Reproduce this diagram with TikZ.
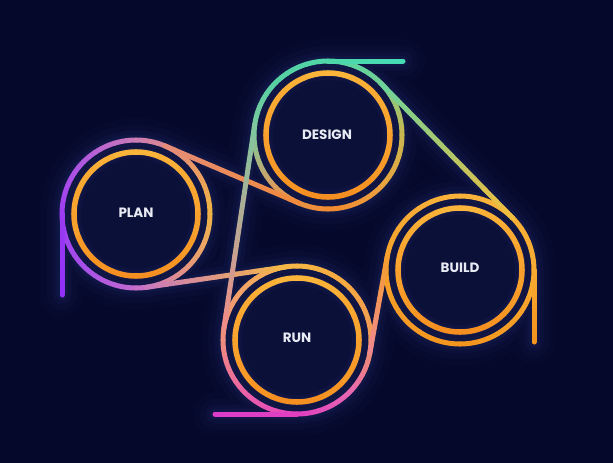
\documentclass[tikz,border=0pt]{standalone}
\usepackage{fontspec}
\newfontfamily\labfont{Poppins}
\usetikzlibrary{calc}
\definecolor{bg}{HTML}{05082A}
\definecolor{disc}{HTML}{0B1039}
\definecolor{glowc}{HTML}{4A5AB8}
\definecolor{txt}{HTML}{E8EAF4}
\definecolor{ringtop}{HTML}{FBB83C}
\definecolor{ringbot}{HTML}{F68C1F}
% PLAN
\definecolor{p90}{HTML}{C46CCC}
\definecolor{p135}{HTML}{A850E8}
\definecolor{p180}{HTML}{9B3CF2}
\definecolor{p225}{HTML}{B058E0}
\definecolor{p270}{HTML}{C97AB8}
\definecolor{p315}{HTML}{E8946C}
\definecolor{p0}{HTML}{F0B445}
\definecolor{p45}{HTML}{E89A78}
\definecolor{ptail}{HTML}{9030F8}
% DESIGN
\definecolor{d90}{HTML}{F08A30}
\definecolor{d135}{HTML}{E09A58}
\definecolor{d180}{HTML}{80C89C}
\definecolor{d225}{HTML}{58D0A2}
\definecolor{d270}{HTML}{4FD6A8}
\definecolor{d315}{HTML}{70D094}
\definecolor{d0}{HTML}{C8B850}
\definecolor{d45}{HTML}{EBA23E}
\definecolor{dtail}{HTML}{46DCB6}
% BUILD
\definecolor{b90}{HTML}{F3941E}
\definecolor{b180}{HTML}{F5A02A}
\definecolor{b270}{HTML}{F9B43C}
\definecolor{b0}{HTML}{F7AC32}
% RUN
\definecolor{u270}{HTML}{F5B645}
\definecolor{u315}{HTML}{F5A840}
\definecolor{u0}{HTML}{F09A5A}
\definecolor{u45}{HTML}{E868B0}
\definecolor{u90}{HTML}{E040C0}
\definecolor{u135}{HTML}{EA60A8}
\definecolor{u180}{HTML}{F08C80}
\definecolor{u225}{HTML}{F2A468}
\definecolor{utail}{HTML}{DC3CCA}
% lines
\definecolor{pdA}{HTML}{E58C7A}
\definecolor{pdB}{HTML}{F08A3A}
\definecolor{puA}{HTML}{C878C0}
\definecolor{puB}{HTML}{F5B845}
\definecolor{duA}{HTML}{7CC8A0}
\definecolor{duB}{HTML}{F28C88}
\definecolor{dbA}{HTML}{68D49C}
\definecolor{dbB}{HTML}{F4BC3C}
\definecolor{buA}{HTML}{F5A02A}
\definecolor{buB}{HTML}{F08890}

\tikzset{
  beltline/.style={line width=5pt, line cap=round},
  ringline/.style={line width=5.5pt, line cap=round},
  label/.style={text=txt, font=\labfont\bfseries\fontsize{13.5}{13.5}\selectfont, inner sep=0pt}
}

% gradient arc: [style] center, radius, start, end, color start, color end
\newcommand\garc[7][beltline]{%
  \foreach \k in {1,...,8}{%
    \pgfmathsetmacro\aa{#4+(#5-#4)*(\k-1)/8}%
    \pgfmathsetmacro\bb{#4+(#5-#4)*\k/8}%
    \pgfmathsetmacro\pp{100-100*(\k-0.5)/8}%
    \draw[#1,draw={#6!\pp!#7}] (#2) ++(\aa:#3) arc[start angle=\aa,end angle=\bb,radius=#3];
  }}
% gradient line: from, to, color start, color end
\newcommand\gline[4]{%
  \foreach \k in {1,...,14}{%
    \pgfmathsetmacro\ta{(\k-1)/14}%
    \pgfmathsetmacro\tb{\k/14}%
    \pgfmathsetmacro\pp{100-100*(\k-0.5)/14}%
    \draw[beltline,draw={#3!\pp!#4}] ($(#1)!\ta!(#2)$) -- ($(#1)!\tb!(#2)$);
  }}

\begin{document}
\begin{tikzpicture}[x=1pt,y=-1pt]
\fill[bg] (0,0) rectangle (613,463);
\useasboundingbox (0,0) rectangle (613,463);

% centres
\coordinate (P) at (136,214);
\coordinate (D) at (328,135);
\coordinate (B) at (460,270);
\coordinate (U) at (297,340);
% tangent points
\coordinate (pd1) at (165.0,145.9);
\coordinate (pd2) at (299.0,203.1);
\coordinate (pu1) at (146.8,287.2);
\coordinate (pu2) at (286.2,266.8);
\coordinate (du1) at (254.8,123.9);
\coordinate (du2) at (223.8,328.9);
\coordinate (db1) at (380.9,83.3);
\coordinate (db2) at (512.9,218.3);
\coordinate (bu1) at (387.2,256.9);
\coordinate (bu2) at (369.8,353.1);
% tail ends
\coordinate (pt1) at (62,214);  \coordinate (pt2) at (62,295);
\coordinate (dt1) at (328,61);  \coordinate (dt2) at (403,61);
\coordinate (bt1) at (534,270); \coordinate (bt2) at (534,342);
\coordinate (ut1) at (297,414); \coordinate (ut2) at (215,414);

% glow
\foreach \w/\o in {44/0.035,30/0.045,19/0.06,11/0.08}{
  \draw[glowc, line width=\w pt, opacity=\o, line cap=round]
    (P) circle[radius=74] (D) circle[radius=74] (B) circle[radius=74] (U) circle[radius=74]
    (pd1)--(pd2) (pu1)--(pu2) (du1)--(du2) (db1)--(db2) (bu1)--(bu2)
    (pt1)--(pt2) (dt1)--(dt2) (bt1)--(bt2) (ut1)--(ut2);
}
\foreach \c in {P,D,B,U}{
  \fill[disc] (\c) circle[radius=60];
  \foreach \w/\o in {14/0.05,8/0.07}{
    \draw[glowc, line width=\w pt, opacity=\o] (\c) circle[radius=62];
  }
}

% inner rings
\foreach \c in {P,D,B,U}{
  \garc[ringline]{\c}{62}{270}{450}{ringtop}{ringbot}
  \garc[ringline]{\c}{62}{270}{90}{ringtop}{ringbot}
}

% PLAN belt
\garc{P}{74}{90}{135}{p90}{p135}
\garc{P}{74}{135}{180}{p135}{p180}
\garc{P}{74}{180}{225}{p180}{p225}
\garc{P}{74}{225}{270}{p225}{p270}
\garc{P}{74}{270}{315}{p270}{p315}
\garc{P}{74}{315}{360}{p315}{p0}
\garc{P}{74}{360}{405}{p0}{p45}
\garc{P}{74}{405}{450}{p45}{p90}
\gline{pt1}{pt2}{p180}{ptail}

% DESIGN belt
\garc{D}{74}{90}{135}{d90}{d135}
\garc{D}{74}{135}{180}{d135}{d180}
\garc{D}{74}{180}{225}{d180}{d225}
\garc{D}{74}{225}{270}{d225}{d270}
\garc{D}{74}{270}{315}{d270}{d315}
\garc{D}{74}{315}{360}{d315}{d0}
\garc{D}{74}{360}{405}{d0}{d45}
\garc{D}{74}{405}{450}{d45}{d90}
\gline{dt1}{dt2}{d270}{dtail}

% BUILD belt
\garc{B}{74}{90}{180}{b90}{b180}
\garc{B}{74}{180}{270}{b180}{b270}
\garc{B}{74}{270}{360}{b270}{b0}
\garc{B}{74}{360}{450}{b0}{b90}
\gline{bt1}{bt2}{b0}{b90}

% RUN belt
\garc{U}{74}{270}{315}{u270}{u315}
\garc{U}{74}{315}{360}{u315}{u0}
\garc{U}{74}{360}{405}{u0}{u45}
\garc{U}{74}{405}{450}{u45}{u90}
\garc{U}{74}{450}{495}{u90}{u135}
\garc{U}{74}{495}{540}{u135}{u180}
\garc{U}{74}{540}{585}{u180}{u225}
\garc{U}{74}{585}{630}{u225}{u270}
\gline{ut1}{ut2}{u90}{utail}

% connecting belt runs
\gline{pd1}{pd2}{pdA}{pdB}
\gline{pu1}{pu2}{puA}{puB}
\gline{du1}{du2}{duA}{duB}
\gline{db1}{db2}{dbA}{dbB}
\gline{bu1}{bu2}{buA}{buB}

% labels
\node[label] (plan) at (136,213) {PLAN};
\node[label] (design) at (327,135) {DESIGN};
\node[label] (build) at (460,268) {BUILD};
\node[label] (run) at (297,338) {RUN};
\end{tikzpicture}
\end{document}
